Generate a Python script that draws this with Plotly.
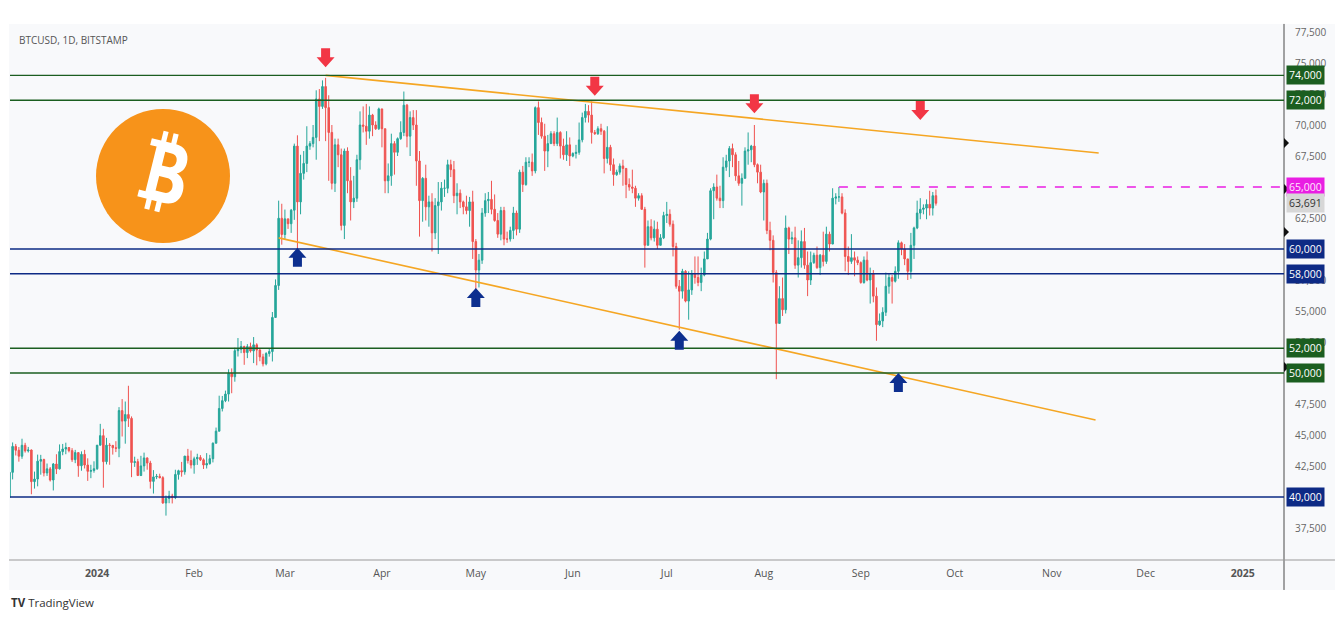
import math
import pandas as pd
import plotly.graph_objects as go

# ------------------------
# Daily BTCUSD candles (Bitstamp), 4 Dec 2023 -> 25 Sep 2024
# ------------------------

start_day = "2023-12-04"

opens = [
    39970, 41990, 44080, 43770, 43290, 44170, 43720, 43790, 41240, 41450,
    42890, 43020, 41940, 42270, 41370, 42660, 42270, 43660, 43870, 43990,
    43740, 43010, 43580, 42520, 43440, 42580, 42070, 42140,
    42280, 44180, 44950, 42850, 44180, 44160, 43970, 43930, 46970, 46120,
    46650, 46340, 42780, 42850, 41730, 42510, 43150, 42740, 41260, 41620,
    41660, 41560, 39520, 39880, 40080, 39950, 41820, 42120, 42030, 43300, 42940,
    42580, 43080, 43190, 43000, 42580, 42700, 43090, 44340, 45310, 47140,
    47770, 48300, 49960, 49700, 51800, 51920, 52140, 51650, 52130, 51780,
    52270, 51850, 51300, 50740, 51570, 51730, 54480, 57060, 62480,
    61170, 62430, 62040, 63130, 68300, 63800, 66100, 66900, 68300, 68500,
    69000, 72100, 71500, 73100, 71400, 69400, 65300, 68400, 67600, 61900,
    67900, 65500, 63800, 64100, 67200, 70000, 69900, 69500, 70800, 70000, 69700,
    71300, 69700, 65500, 65900, 68500, 67800, 68900, 69400, 71600, 69100,
    70600, 70000, 67100, 63900, 65700, 63400, 63800, 61300, 63500, 63800,
    64900, 64900, 66800, 66400, 64300, 64500, 63800, 63400, 63100, 63800,
    60600, 58300, 59100, 62900, 63900, 64000, 63200, 62300, 61200, 63100,
    60800, 60800, 61500, 62900, 61600, 66200, 65200, 67000, 67000, 66300,
    71400, 70200, 69100, 67900, 68500, 69300, 68500, 69400, 68300, 67600, 68400,
    67500, 67700, 67800, 68800, 70600, 71100, 70800, 69400, 69300, 69700,
    69500, 67300, 68200, 66800, 66000, 66200, 66700, 66500, 65200, 65000,
    64900, 64100, 64300, 63200, 60300, 61800, 60900, 61600, 60300, 60900,
    62700, 62800, 62000, 60200, 57000, 56600, 58200, 55800, 56700, 58000,
    57700, 57300, 57900, 59200, 60800, 64700, 65000, 64100, 63900, 66600,
    67100, 68100, 67600, 65900, 65300, 65700, 67900, 68000, 68300, 66800, 66200,
    64600, 65300, 61500, 60700, 58100, 54000, 56000, 55100, 61700, 60800,
    60900, 58700, 59300, 60600, 58700, 57500, 58900, 59500, 58500, 59500,
    59000, 61200, 60400, 64100, 64200, 64200, 62900, 59400, 59000, 59300, 59100,
    58900, 57300, 59100, 57500, 58000, 56200, 53900, 54200, 54900, 57000,
    57700, 57400, 58200, 60500, 60000, 59200, 58200, 60300, 61700, 62900,
    63200, 63300, 63600, 63300, 64300,
]

highs = [
    42400, 44400, 44280, 44030, 44700, 44370, 44040, 43830, 42050, 43420,
    43400, 43090, 42700, 42420, 42740, 43450, 44240, 44280, 44380, 44000,
    43940, 43800, 43610, 43680, 43800, 43120, 42600, 42880,
    44190, 45900, 45500, 44770, 44350, 44200, 44500, 47250, 47900, 47700,
    48970, 46500, 43250, 43080, 43320, 43580, 43190, 42920, 42170, 41860,
    41880, 41680, 40120, 40500, 40260, 42200, 42200, 42830, 43300, 43880, 43750,
    43250, 43490, 43380, 43120, 43540, 43400, 44400, 45600, 48170, 48150,
    48580, 50300, 50370, 52040, 52820, 52580, 52200, 52330, 52450, 52900,
    52400, 52000, 51550, 51680, 51940, 54920, 57550, 63900, 63650,
    63180, 62430, 63230, 68500, 69170, 67600, 67900, 69900, 68700, 70000,
    72800, 72900, 73600, 73800, 72400, 70000, 68900, 68900, 68100, 68100,
    68200, 66600, 65900, 67600, 71100, 71500, 71700, 71500, 70900, 70300, 71400,
    71300, 69700, 66900, 69300, 68700, 69000, 70300, 72700, 71700, 71100,
    71200, 71200, 67900, 65800, 66800, 64300, 64500, 64100, 65400, 65400,
    65600, 67200, 67200, 67100, 65300, 64800, 63900, 64300, 64200, 64700,
    60800, 59600, 63300, 64500, 64600, 65500, 64400, 62900, 63400, 63400,
    61400, 61800, 63400, 63100, 66400, 66700, 67400, 67400, 67700, 71500,
    71900, 70600, 70100, 69200, 69500, 69500, 70600, 69500, 68900, 69500, 69000,
    67800, 68400, 70200, 71000, 71700, 71600, 71900, 69600, 69900, 70100,
    69600, 69900, 68400, 67300, 66400, 66900, 67200, 66500, 65700, 66400,
    65100, 64500, 64500, 63400, 62300, 62400, 62300, 62200, 61200, 63000,
    63800, 63200, 62300, 60500, 57500, 58400, 58300, 58200, 58300, 59400,
    59400, 58500, 59800, 61300, 64900, 65300, 66000, 65100, 67400, 67600,
    68300, 68500, 67800, 67100, 66100, 68200, 69400, 68400, 70000, 66900, 66800,
    65600, 65600, 62200, 61100, 58300, 57000, 57700, 62700, 61800, 61400,
    61800, 60700, 61500, 61700, 59800, 59800, 59700, 60200, 59600, 61400,
    61800, 61400, 64900, 64500, 65000, 64500, 63200, 60200, 61200, 59800, 59400,
    59000, 59400, 59800, 58500, 58300, 56900, 54800, 55300, 58100, 58000,
    57900, 58600, 60700, 60600, 60400, 59200, 61300, 61800, 63900, 64100,
    63600, 64000, 64700, 64600, 64800,
]

lows = [
    39970, 41420, 43350, 42850, 43080, 43580, 43590, 40220, 40680, 40860,
    41800, 41660, 41700, 41250, 40530, 41850, 42220, 43370, 43450, 43600,
    42830, 42730, 41630, 42120, 42300, 41300, 41520, 41960,
    42190, 44170, 40750, 42630, 42600, 43420, 43620, 43210, 44880, 44300,
    45650, 41600, 42430, 41710, 41730, 42050, 42200, 40680, 40280, 41440,
    41500, 39450, 38500, 39500, 39480, 39830, 41400, 41640, 41800, 42700, 42300,
    41880, 42590, 42900, 42260, 42300, 42600, 42790, 44330, 45300, 46900,
    47650, 47700, 48370, 49300, 51330, 51600, 50660, 51200, 51650, 50800,
    50620, 50950, 50530, 50620, 51320, 50930, 54450, 56700, 60350,
    60790, 61620, 61300, 62350, 59300, 62800, 65600, 66200, 68000, 68200,
    67200, 68700, 71300, 68700, 65500, 64800, 64600, 66600, 61500, 60800,
    64500, 62300, 63300, 63800, 66400, 69400, 68400, 68900, 69100, 69600, 69600,
    68200, 64500, 64500, 65100, 66000, 67500, 68800, 69100, 68200, 67500,
    69600, 65100, 61000, 62200, 62300, 61800, 59800, 60800, 59600, 63100,
    64200, 64500, 65800, 63700, 62800, 63300, 62800, 62800, 61800, 59200,
    56500, 56900, 58800, 62600, 62900, 62800, 62200, 60900, 60700, 60300,
    60500, 60600, 60800, 61100, 61300, 64600, 65100, 66600, 65900, 66100,
    69200, 68900, 66300, 66600, 68500, 68300, 68300, 67300, 67200, 67100, 66700,
    67400, 67300, 67600, 68600, 70200, 70200, 68500, 69200, 69200, 69200,
    66100, 66900, 66300, 65100, 65900, 66000, 65100, 64100, 64700, 64500,
    63400, 63900, 63200, 58500, 60300, 60700, 60600, 60000, 60300, 60800,
    62100, 61800, 59400, 56800, 53500, 56000, 55700, 54300, 56300, 57200,
    57000, 56600, 57800, 59500, 60700, 62400, 63900, 63300, 63300, 66300,
    65800, 66600, 65500, 65100, 63500, 65700, 66800, 67000, 66600, 65300, 64500,
    62300, 61200, 59900, 57300, 49500, 54000, 54600, 54800, 59600, 60400,
    58400, 57700, 58500, 58400, 56200, 57100, 58800, 58400, 57900, 58600,
    58800, 59800, 60400, 63600, 63800, 62800, 58200, 57900, 58800, 57800, 58700,
    57200, 57200, 57400, 55600, 55700, 52600, 53800, 53700, 54600, 56400,
    55600, 57300, 57600, 59500, 58700, 57500, 57600, 59200, 61600, 62400,
    62800, 62400, 62700, 62700, 63500,
]

closes = [
    41990, 44080, 43770, 43290, 44170, 43720, 43790, 41240, 41450, 42890,
    43020, 41940, 42270, 41370, 42660, 42270, 43660, 43870, 43990, 43740,
    43010, 43580, 42520, 43440, 42580, 42070, 42140, 42280,
    44180, 44950, 42850, 44180, 44160, 43970, 43930, 46970, 46120, 46650,
    46340, 42780, 42850, 41730, 42510, 43150, 42740, 41260, 41620, 41660,
    41560, 39520, 39880, 40080, 39950, 41820, 42120, 42030, 43300, 42940, 42580,
    43080, 43190, 43000, 42580, 42700, 43090, 44340, 45310, 47140, 47770,
    48300, 49960, 49700, 51800, 51920, 52140, 51650, 52130, 51780, 52270,
    51850, 51300, 50740, 51570, 51730, 54480, 57060, 62480, 61170,
    62430, 62040, 63130, 68300, 63800, 66100, 66900, 68300, 68500, 69000,
    72100, 71500, 73100, 71400, 69400, 65300, 68400, 67600, 61900, 67900,
    65500, 63800, 64100, 67200, 70000, 69900, 69500, 70800, 70000, 69700, 71300,
    69700, 65500, 65900, 68500, 67800, 68900, 69400, 71600, 69100, 70600,
    70000, 67100, 63900, 65700, 63400, 63800, 61300, 63500, 63800, 64900,
    64900, 66800, 66400, 64300, 64500, 63800, 63400, 63100, 63800, 60600,
    58300, 59100, 62900, 63900, 64000, 63200, 62300, 61200, 63100, 60800,
    60800, 61500, 62900, 61600, 66200, 65200, 67000, 67000, 66300, 71400,
    70200, 69100, 67900, 68500, 69300, 68500, 69400, 68300, 67600, 68400, 67500,
    67700, 67800, 68800, 70600, 71100, 70800, 69400, 69300, 69700, 69500,
    67300, 68200, 66800, 66000, 66200, 66700, 66500, 65200, 65000, 64900,
    64100, 64300, 63200, 60300, 61800, 60900, 61600, 60300, 60900, 62700,
    62800, 62000, 60200, 57000, 56600, 58200, 55800, 56700, 58000, 57700,
    57300, 57900, 59200, 60800, 64700, 65000, 64100, 63900, 66600, 67100,
    68100, 67600, 65900, 65300, 65700, 67900, 68000, 68300, 66800, 66200, 64600,
    65300, 61500, 60700, 58100, 54000, 56000, 55100, 61700, 60800, 60900,
    58700, 59300, 60600, 58700, 57500, 58900, 59500, 58500, 59500, 59000,
    61200, 60400, 64100, 64200, 64200, 62900, 59400, 59000, 59300, 59100, 58900,
    57300, 59100, 57500, 58000, 56200, 53900, 54200, 54900, 57000, 57700,
    57400, 58200, 60500, 60000, 59200, 58200, 60300, 61700, 62900, 63200,
    63300, 63600, 63300, 64300, 63691,
]

dates = pd.date_range(start_day, periods=len(closes), freq="D")

# key levels drawn across the chart
green_levels = [74000, 72000, 52000, 50000]
blue_levels = [60000, 58000, 40000]
resistance_level = 65000
resistance_from = "2024-08-25"
last_price = 63691

# small axis markers on the price scale
axis_marks = [68550, 64830, 61370, 50480]

# channel trendlines (start / end points)
upper_dates = ["2024-03-14", "2024-11-16"]
upper_prices = [74000, 67740]
lower_dates = ["2024-02-28", "2024-11-15"]
lower_prices = [60900, 46210]

# arrow marks
sell_dates = ["2024-03-14", "2024-06-08", "2024-07-29", "2024-09-20"]
sell_prices = [74650, 72350, 70950, 70400]
buy_dates = ["2024-03-05", "2024-05-01", "2024-07-05", "2024-09-13"]
buy_prices = [60100, 56850, 53400, 50000]

# axis ticks (values already carried by a price tag are left out)
price_ticks = [37500, 42500, 45000, 47500, 52500, 55000, 57500,
               62500, 67500, 70000, 72500, 75000, 77500]
month_ticks = ["2024-01-01", "2024-02-01", "2024-03-01", "2024-04-01", "2024-05-01",
               "2024-06-01", "2024-07-01", "2024-08-01", "2024-09-01", "2024-10-01",
               "2024-11-01", "2024-12-01", "2025-01-01"]
month_labels = ["<b>2024</b>", "Feb", "Mar", "Apr", "May", "Jun", "Jul", "Aug",
                "Sep", "Oct", "Nov", "Dec", "<b>2025</b>"]

GREEN = "#1b5e20"
NAVY = "#0d2a85"
PINK = "#e91ee3"
ORANGE = "#f5a623"
RED_ARROW = "#f23645"
BLUE_ARROW = "#0d2f8f"
BTC_ORANGE = "#f7931a"

fig = go.Figure()

# ------------------------
# Candles
# ------------------------

fig.add_trace(
    go.Candlestick(
        x=dates,
        open=opens,
        high=highs,
        low=lows,
        close=closes,
        increasing=dict(line=dict(color="#26a69a", width=1), fillcolor="#26a69a"),
        decreasing=dict(line=dict(color="#ef5350", width=1), fillcolor="#ef5350"),
        whiskerwidth=0,
        showlegend=False,
        hoverinfo="skip",
    )
)

# ------------------------
# Trendlines
# ------------------------

for d, p in [(upper_dates, upper_prices), (lower_dates, lower_prices)]:
    fig.add_trace(
        go.Scatter(x=d, y=p, mode="lines", line=dict(color=ORANGE, width=1.6),
                   showlegend=False, hoverinfo="skip")
    )

shapes = []

# chart frame (light background incl. axis strips)
shapes.append(dict(type="rect", xref="paper", yref="paper", x0=-0.0008, x1=1.040,
                   y0=-0.056, y1=1.002, fillcolor="#f8f9fb", line=dict(width=0),
                   layer="below"))
# axis separators
shapes.append(dict(type="line", xref="paper", yref="paper", x0=1, x1=1,
                   y0=-0.056, y1=1.002, line=dict(color="#4a4a4a", width=1)))
shapes.append(dict(type="line", xref="paper", yref="paper", x0=-0.0008, x1=1.040,
                   y0=0, y1=0, line=dict(color="#9a9a9a", width=1.2)))

for lvl in green_levels:
    shapes.append(dict(type="line", xref="paper", yref="y", x0=0, x1=1, y0=lvl, y1=lvl,
                       line=dict(color=GREEN, width=1.4)))
for lvl in blue_levels:
    shapes.append(dict(type="line", xref="paper", yref="y", x0=0, x1=1, y0=lvl, y1=lvl,
                       line=dict(color=NAVY, width=1.4)))

shapes.append(dict(type="line", xref="x", yref="y", x0=resistance_from, x1="2025-01-14 05:00",
                   y0=resistance_level, y1=resistance_level,
                   line=dict(color=PINK, width=1.4, dash="dash")))

# little black markers on the price scale
for p in axis_marks:
    shapes.append(dict(type="path", xref="paper", yref="y", xsizemode="pixel",
                       ysizemode="pixel", xanchor=1, yanchor=p,
                       path="M0,-5 L5,0 L0,5 Z", fillcolor="#111111", line=dict(width=0)))

# arrows (pixel-sized paths anchored at the tip, y up)
down_arrow = "M0,0 L-9,10 L-4.5,10 L-4.5,19 L4.5,19 L4.5,10 L9,10 Z"
up_arrow = "M0,0 L-9,-10 L-4.5,-10 L-4.5,-19 L4.5,-19 L4.5,-10 L9,-10 Z"
for d, p in zip(sell_dates, sell_prices):
    shapes.append(dict(type="path", xref="x", yref="y", xsizemode="pixel", ysizemode="pixel",
                       xanchor=d, yanchor=p, path=down_arrow,
                       fillcolor=RED_ARROW, line=dict(width=0)))
for d, p in zip(buy_dates, buy_prices):
    shapes.append(dict(type="path", xref="x", yref="y", xsizemode="pixel", ysizemode="pixel",
                       xanchor=d, yanchor=p, path=up_arrow,
                       fillcolor=BLUE_ARROW, line=dict(width=0)))

# ------------------------
# Bitcoin logo (circle + tilted B drawn as paths)
# ------------------------

logo_x, logo_y = 0.1201, 0.7178


def logo_path(segments, sx=0.74, dy=4, angle=14):
    # one command per point: plotly ignores extra point pairs in a segment
    a = math.radians(angle)

    def tr(px, py):
        px, py = px * sx, py + dy
        rx = px * math.cos(a) + py * math.sin(a)
        ry = -px * math.sin(a) + py * math.cos(a)
        return f"{rx:.2f},{ry:.2f}"

    out = []
    for cmd, pts in segments:
        if cmd == "C":
            out.append("C" + " ".join(tr(*p) for p in pts))
        else:
            for p in pts:
                out.append(cmd + tr(*p))
                cmd = "L"
    return " ".join(out) + " Z"


b_outer = [("M", [(-27, 30)]), ("L", [(6, 30)]),
           ("C", [(20, 30), (27, 23), (27, 15)]),
           ("C", [(27, 8), (23, 4), (17, 2)]),
           ("C", [(26, 0), (31, -6), (31, -14)]),
           ("C", [(31, -24), (23, -30), (8, -30)]),
           ("L", [(-27, -30), (-27, -23), (-18, -23), (-18, 23), (-27, 23)])]
b_top_hole = [("M", [(-5, 20)]), ("L", [(4, 20)]),
              ("C", [(10, 20), (13, 17), (13, 13)]),
              ("C", [(13, 9), (10, 6), (4, 6)]),
              ("L", [(-5, 6)])]
b_bottom_hole = [("M", [(-5, -5)]), ("L", [(6, -5)]),
                 ("C", [(13, -5), (16, -9), (16, -13)]),
                 ("C", [(16, -17), (13, -20), (6, -20)]),
                 ("L", [(-5, -20)])]
b_bars = []
for bx in (-14, 0):
    for y0, y1 in ((28, 40), (-40, -28)):
        b_bars.append([("M", [(bx, y0)]), ("L", [(bx + 7, y0), (bx + 7, y1), (bx, y1)])])

shapes.append(dict(type="circle", xref="paper", yref="paper", xsizemode="pixel",
                   ysizemode="pixel", xanchor=logo_x, yanchor=logo_y,
                   x0=-67, x1=67, y0=-67, y1=67, fillcolor=BTC_ORANGE, line=dict(width=0)))
for seg, col in [(b_outer, "white")] + [(b, "white") for b in b_bars] + \
        [(b_top_hole, BTC_ORANGE), (b_bottom_hole, BTC_ORANGE)]:
    shapes.append(dict(type="path", xref="paper", yref="paper", xsizemode="pixel",
                       ysizemode="pixel", xanchor=logo_x, yanchor=logo_y,
                       path=logo_path(seg), fillcolor=col, line=dict(width=0)))

annotations = []

annotations.append(dict(text="BTCUSD, 1D, BITSTAMP", xref="paper", yref="paper",
                        x=0.0055, y=0.972, xanchor="left", yanchor="middle", showarrow=False,
                        font=dict(family="Open Sans", size=10, color="#555555")))

annotations.append(dict(text="<b>TV</b> TradingView", xref="paper", yref="paper",
                        x=-0.001, y=-0.080, xanchor="left", yanchor="middle", showarrow=False,
                        font=dict(family="Open Sans", size=11.5, color="#333333")))

# price tags on the right axis
tags = [(lvl, GREEN, "white") for lvl in green_levels]
tags += [(lvl, NAVY, "white") for lvl in blue_levels]
tags += [(resistance_level, PINK, "#ffe8fc"), (last_price, "#d7d7d7", "#333333")]
for lvl, bg, fg in tags:
    annotations.append(dict(text=f"{lvl:,}", xref="paper", yref="y", x=1, y=lvl,
                            xanchor="left", yanchor="middle", xshift=2, showarrow=False,
                            bgcolor=bg, borderpad=2,
                            font=dict(family="Open Sans", size=10.5, color=fg)))

# the page body adds an 8px offset, so the figure is a little smaller than the window
fig.update_layout(
    width=1327,
    height=603,
    margin=dict(l=2, r=51, t=17, b=51),
    paper_bgcolor="white",
    plot_bgcolor="rgba(0,0,0,0)",
    shapes=shapes,
    annotations=annotations,
    showlegend=False,
    xaxis=dict(
        type="date",
        range=["2023-12-04 04:00", "2025-01-14 05:00"],
        rangeslider=dict(visible=False),
        tickvals=month_ticks,
        ticktext=month_labels,
        showgrid=False,
        zeroline=False,
        ticks="",
        ticklabelstandoff=5,
        tickfont=dict(family="Open Sans", size=10.5, color="#555555"),
    ),
    yaxis=dict(
        side="right",
        range=[34920, 78065],
        tickvals=price_ticks,
        tickformat=",",
        showgrid=False,
        zeroline=False,
        ticks="",
        ticklabelstandoff=10,
        tickfont=dict(family="Open Sans", size=10, color="#666666"),
    ),
)

fig.write_html("out.html")
